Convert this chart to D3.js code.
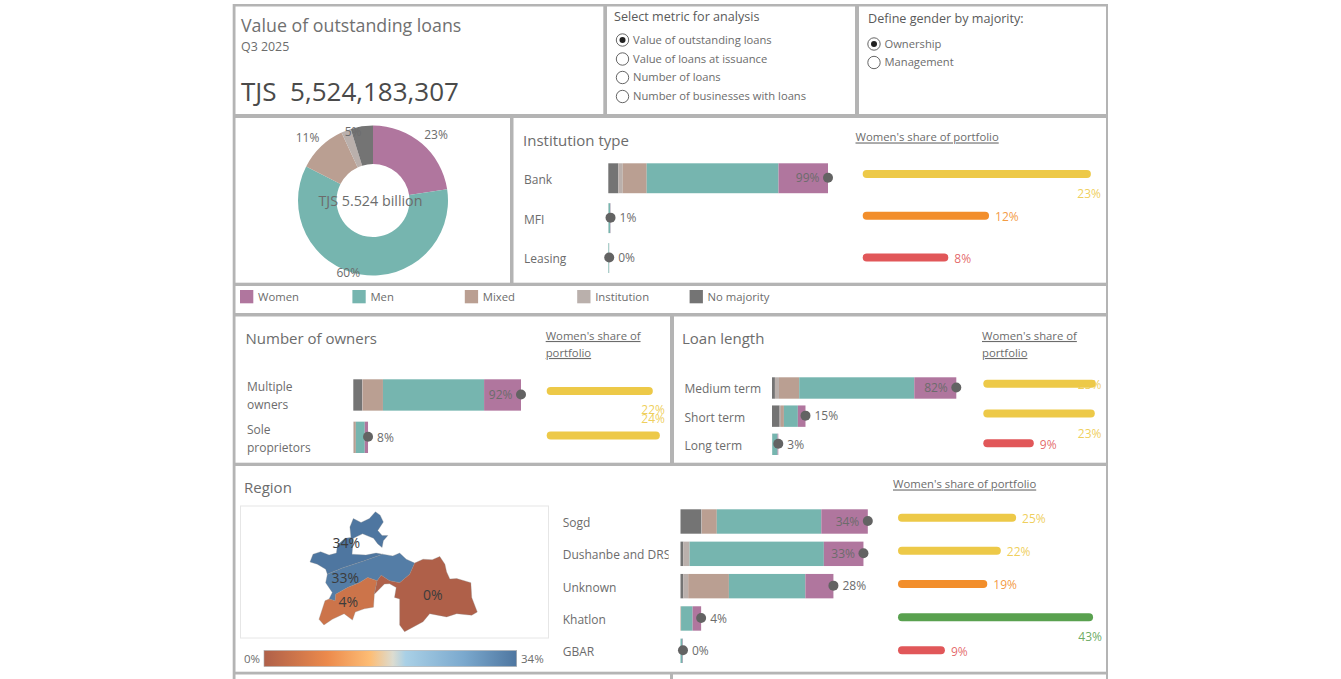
<!DOCTYPE html>
<html>
<head>
<meta charset="utf-8">
<script src="https://cdn.jsdelivr.net/npm/d3@7"></script>
<style>
  html, body { margin: 0; background: #fff; }
  svg { display: block; }
  text { font-family: "Open Sans", sans-serif; fill: #6c6c6c; }
</style>
</head>
<body>
<div id="chart"></div>
<script>
// stack order, left to right
const segmentNames = ['No majority', 'Institution', 'Mixed', 'Men', 'Women'];
const legendNames = ['Women', 'Men', 'Mixed', 'Institution', 'No majority'];
const segmentColors = ['#747474', '#bab0ac', '#ba9f92', '#76b5af', '#b0769e'];

const metricOptions = ['Value of outstanding loans', 'Value of loans at issuance', 'Number of loans', 'Number of businesses with loans'];
const genderOptions = ['Ownership', 'Management'];

// whole portfolio, % per segment
const portfolioShares = [4.8, 2.1, 10.6, 59.9, 22.6];

const institutionRows = ['Bank', 'MFI', 'Leasing'];
const institutionShares = [
  [4.5, 2.0, 10.8, 59.4, 22.3],
  [0.0, 0.02, 0.08, 0.78, 0.12],
  [0.0, 0.0, 0.05, 0.33, 0.03]
];
const institutionWomen = [22.7, 12.2, 8.0];

const ownerRows = ['Multiple owners', 'Sole proprietors'];
const ownerShares = [
  [4.9, 0.2, 11.2, 55.6, 20.3],
  [0.0, 0.3, 1.1, 4.9, 1.8]
];
const ownerWomen = [22.3, 23.9];

const lengthRows = ['Medium term', 'Short term', 'Long term'];
const lengthShares = [
  [1.3, 1.8, 9.0, 51.2, 18.7],
  [3.4, 0.6, 1.3, 6.2, 3.4],
  [0.0, 0.0, 0.1, 2.4, 0.3]
];
const lengthWomen = [23.1, 22.9, 9.4];

const regionRows = ['Sogd', 'Dushanbe and DRS', 'Unknown', 'Khatlon', 'GBAR'];
const regionShares = [
  [3.8, 0.1, 2.7, 19.0, 8.45],
  [0.5, 1.16, 0.0, 24.4, 7.2],
  [0.5, 0.9, 7.4, 13.9, 5.1],
  [0.0, 0.0, 0.1, 2.1, 1.55],
  [0.0, 0.0, 0.0, 0.38, 0.07]
];
const regionWomen = [25.2, 21.7, 18.6, 42.8, 8.9];

// map: lon/lat outlines
const mapValues = [34, 33, 4, 0];
const mapLabelAt = [[69.09, 39.95], [69.04, 38.68], [69.18, 37.81], [73.13, 38.07]];
const sogdOutline = [[67.40,39.26],[67.54,39.54],[67.90,39.63],[68.29,39.51],[68.63,39.58],[68.68,39.87],[69.03,40.11],[69.31,40.14],[69.26,40.51],[69.42,40.81],[69.78,40.67],[70.17,40.81],[70.45,41.05],[70.67,40.93],[70.82,40.69],[70.56,40.39],[70.76,40.21],[71.03,40.21],[70.82,40.02],[70.76,39.78],[70.56,39.91],[70.36,40.11],[69.85,40.27],[69.42,40.11],[69.36,39.54],[70.01,39.51],[70.48,39.58],[70.79,39.54],[69.93,39.30],[68.91,39.04],[68.21,38.82],[68.13,39.00],[67.74,39.18]];
const drsOutline = [[70.79,39.54],[71.26,39.48],[71.58,39.58],[71.89,39.36],[72.28,39.22],[72.05,38.82],[71.58,38.51],[71.11,38.58],[70.72,38.78],[70.53,38.58],[70.09,38.70],[69.70,38.51],[69.15,38.33],[68.60,38.09],[68.57,37.85],[68.29,37.91],[68.44,38.15],[68.13,38.51],[68.21,38.82],[68.91,39.04],[69.93,39.30]];
const khatlonOutline = [[70.09,38.70],[70.53,38.58],[70.40,38.09],[70.36,37.61],[69.93,37.55],[69.51,37.43],[69.38,37.13],[68.99,37.37],[68.44,37.16],[68.05,36.95],[67.82,37.16],[68.10,37.85],[68.29,37.91],[68.57,37.85],[68.60,38.09],[69.15,38.33],[69.70,38.51]];
const gbaoOutline = [[72.28,39.22],[72.67,39.36],[73.10,39.34],[73.45,39.46],[73.69,39.18],[73.77,38.90],[73.92,38.64],[74.24,38.66],[74.90,38.51],[74.94,37.97],[75.20,37.43],[74.94,37.31],[74.24,37.37],[73.77,37.25],[72.98,37.37],[72.67,37.07],[71.81,36.70],[71.58,36.95],[71.58,37.91],[71.34,37.97],[71.42,38.33],[71.11,38.47],[70.87,38.46],[70.40,38.09],[70.53,38.58],[70.72,38.78],[71.11,38.58],[71.58,38.51],[72.05,38.82]];
const mapOutlines = [sogdOutline, drsOutline, khatlonOutline, gbaoOutline];

const width = 1341, height = 679;
const grey = '#b4b4b4', textGrey = '#6c6c6c', dotGrey = '#636363';

const svg = d3.select('#chart').append('svg')
  .attr('width', width)
  .attr('height', height);

function txt(x, y, s, size, opts) {
  opts = opts || {};
  return svg.append('text')
    .attr('x', x).attr('y', y)
    .attr('dy', '0.35em')
    .attr('xml:space', 'preserve')
    .attr('text-anchor', opts.anchor || 'start')
    .style('font-size', size + 'px')
    .style('fill', opts.fill || textGrey)
    .style('text-decoration', opts.underline ? 'underline' : null)
    .text(s);
}

// dashboard frame
[
  [233, 4, 875, 2.5], [233, 114, 875, 4], [233, 282.7, 875, 3.3], [233, 313, 875, 3.5],
  [233, 462.7, 875, 3.3], [233, 671.7, 875, 2.8],
  [232.7, 4, 2.8, 675], [1106, 4, 2, 675],
  [603.3, 4, 3.7, 110], [855, 4, 4, 110], [510, 118, 3.5, 165], [670, 316, 4, 147], [670, 674, 3, 5]
].forEach(function(r) {
  svg.append('rect').attr('x', r[0]).attr('y', r[1]).attr('width', r[2]).attr('height', r[3]).attr('fill', grey);
});

// header
txt(241, 26, 'Value of outstanding loans', 17.8, {fill: '#707070'});
txt(241, 47, 'Q3 2025', 12.4);
txt(241, 91.5, 'TJS  5,524,183,307', 26, {fill: '#4a4a4a'});

function radios(title, tx, ty, names, cx, ys, labelX, size) {
  txt(tx, ty, title, 12.6, {fill: '#5a5a5a'});
  names.forEach(function(n, i) {
    svg.append('circle').attr('cx', cx).attr('cy', ys[i]).attr('r', 6.2)
      .attr('fill', '#fff').attr('stroke', '#555').attr('stroke-width', 0.9);
    if (i == 0) svg.append('circle').attr('cx', cx).attr('cy', ys[i]).attr('r', 3).attr('fill', '#222');
    txt(labelX, ys[i], n, size);
  });
}
radios('Select metric for analysis', 614, 17, metricOptions, 622.5, [40, 59, 77.5, 96.5], 633, 11.2);
radios('Define gender by majority:', 868, 19, genderOptions, 874, [44, 62.5], 884.5, 11.2);

// donut
const donutOrder = [4, 3, 2, 1, 0];
const pie = d3.pie().sort(null).value(function(i) { return portfolioShares[i]; });
const arc = d3.arc().innerRadius(36.5).outerRadius(75);
const donut = svg.append('g').attr('transform', 'translate(373,200.5)');
donut.selectAll('path').data(pie(donutOrder)).join('path')
  .attr('d', arc)
  .attr('fill', function(d) { return segmentColors[d.data]; });
// label spots: radius and angle per slice, no-institution label is hidden in the original
[[91.6, 43.5], [76, 199], [91, 314], null, [72, 344]].forEach(function(p, i) {
  if (!p) return;
  const a = d3.pointRadial(p[1] * Math.PI / 180, p[0]);
  txt(373 + a[0], 200.5 + a[1] + 0.5, d3.format('.0f')(portfolioShares[donutOrder[i]]) + '%', 12, {anchor: 'middle'});
});
txt(370.5, 201, 'TJS 5.524 billion', 14.3, {anchor: 'middle'});

// legend
legendNames.forEach(function(n, i) {
  const x = 240 + i * 112.4;
  svg.append('rect').attr('x', x).attr('y', 290).attr('width', 13.3).attr('height', 13.3)
    .attr('fill', segmentColors[segmentNames.indexOf(n)]);
  txt(x + 18, 297, n, 11.3);
});

const womenColor = d3.scaleThreshold().domain([10, 20, 30]).range(['#e15759', '#f28e2b', '#edc948', '#59a14f']);

function breakdown(p) {
  const x = d3.scaleLinear().domain([0, p.maxTotal]).range(p.barRange);
  const y = d3.scaleBand().domain(p.rows).range(p.yRange).paddingInner(p.pad);

  txt(p.titleX, p.titleY, p.title, 15);
  p.header.forEach(function(line, i) {
    txt(p.headerX, p.headerY + i * 17, line, 11.3, {underline: true});
  });

  const clipId = 'clip' + p.titleX;
  svg.append('clipPath').attr('id', clipId).append('rect')
    .attr('x', p.labelX - 2).attr('y', p.yRange[0] - 12)
    .attr('width', p.labelClip).attr('height', p.yRange[1] - p.yRange[0] + 24);

  p.rows.forEach(function(row, i) {
    const cy = y(row) + y.bandwidth() / 2;
    // category label, wraps at the space when asked to
    const lines = p.wrap ? row.split(' ') : [row];
    lines.forEach(function(line, k) {
      const ly = lines.length > 1 ? cy - 8 + k * 18 : cy + 1.2;
      txt(p.labelX, ly, line, 12).attr('clip-path', 'url(#' + clipId + ')');
    });

    const stacked = d3.cumsum(p.shares[i]);
    p.shares[i].forEach(function(v, j) {
      if (!v) return;
      svg.append('rect')
        .attr('x', x(stacked[j] - v))
        .attr('y', y(row))
        .attr('width', x(stacked[j]) - x(stacked[j] - v))
        .attr('height', y.bandwidth())
        .attr('fill', segmentColors[j]);
    });

    const total = stacked[stacked.length - 1];
    svg.append('circle').attr('cx', x(total)).attr('cy', cy - 0.5).attr('r', 5).attr('fill', dotGrey);
    const inside = total > p.flipAbove;
    txt(x(total) + (inside ? -8.5 : 9), cy, Math.round(total) + '%', 12, {anchor: inside ? 'end' : 'start'});
  });

  // women's share column
  const w = d3.scaleLinear().domain([0, 10]).range([p.shareX + 4, p.shareX + 4 + p.sharePer10]);
  const wy = d3.scalePoint().domain(p.rows).range(p.shareY);
  p.rows.forEach(function(row, i) {
    const v = p.women[i];
    const c = womenColor(v);
    const shift = p.labelShift[i];
    const label = shift === null
      ? txt(w(v) + 10, wy(row) + 1, Math.round(v) + '%', 12, {fill: c})
      : txt(p.labelEdge, wy(row) + shift, Math.round(v) + '%', 12, {fill: c, anchor: 'end'});
    label.style('fill-opacity', 0.9);
    svg.append('line')
      .attr('x1', w(0)).attr('x2', w(v))
      .attr('y1', wy(row)).attr('y2', wy(row))
      .attr('stroke', c).attr('stroke-width', 8).attr('stroke-linecap', 'round');
  });
}

breakdown({
  title: 'Institution type', titleX: 523, titleY: 141, rows: institutionRows, shares: institutionShares, women: institutionWomen,
  header: ["Women's share of portfolio"], headerX: 855.5, headerY: 137.5,
  labelX: 524, labelClip: 80, maxTotal: 99, barRange: [608.3, 828], yRange: [163.3, 273], pad: 0.25, flipAbove: 50,
  shareX: 862.7, sharePer10: 97, shareY: [174, 257.5], labelEdge: 1101, labelShift: [19.5, null, null]
});
breakdown({
  title: 'Number of owners', titleX: 245.5, titleY: 339, rows: ownerRows, shares: ownerShares, women: ownerWomen,
  header: ["Women's share of", 'portfolio'], headerX: 545.7, headerY: 336, wrap: true,
  labelX: 247, labelClip: 90, maxTotal: 92.2, barRange: [353.3, 521], yRange: [379.3, 453], pad: 0.26, flipAbove: 50,
  shareX: 546.7, sharePer10: 44, shareY: [391, 435.5], labelEdge: 665, labelShift: [19, -17]
});
breakdown({
  title: 'Loan length', titleX: 682, titleY: 339, rows: lengthRows, shares: lengthShares, women: lengthWomen,
  header: ["Women's share of", 'portfolio'], headerX: 982, headerY: 336,
  labelX: 684.5, labelClip: 85, maxTotal: 82, barRange: [772, 956.3], yRange: [377.3, 455], pad: 0.24, flipAbove: 50,
  shareX: 983.3, sharePer10: 45.2, shareY: [383.7, 443.3], labelEdge: 1101.5, labelShift: [1.5, 20, null]
});
breakdown({
  title: 'Region', titleX: 244, titleY: 488, rows: regionRows, shares: regionShares, women: regionWomen,
  header: ["Women's share of portfolio"], headerX: 893, headerY: 484.5,
  labelX: 562.7, labelClip: 108, maxTotal: 34.05, barRange: [680.5, 867.8], yRange: [509.3, 663], pad: 0.245, flipAbove: 30,
  shareX: 898, sharePer10: 43.7, shareY: [517.7, 650.3], labelEdge: 1102, labelShift: [null, null, null, 19.5, null]
});

// choropleth
svg.append('rect').attr('x', 240.5).attr('y', 506).attr('width', 308).attr('height', 132)
  .attr('fill', '#fff').attr('stroke', '#e6e6e6');

const mapFeatures = mapOutlines.map(function(ring, i) {
  return {type: 'Feature', properties: {value: mapValues[i]},
    geometry: {type: 'Polygon', coordinates: [ring.concat([ring[0]])]}};
});
const mapGeo = {type: 'FeatureCollection', features: mapFeatures};
const projection = d3.geoMercator().fitExtent([[310, 511.7], [477.3, 631.7]], mapGeo);
const geoPath = d3.geoPath(projection);

const stopAt = [0, 0.25, 0.42, 0.51, 0.56, 0.79, 1];
const stopColors = ['#af6049', '#ec8a4c', '#fdbd75', '#dcdcd0', '#a9d0e6', '#7ba9ce', '#4e76a0'];
const mapColor = d3.scaleLinear().domain(stopAt.map(function(s) { return s * 34; })).range(stopColors);

svg.append('g').selectAll('path').data(mapFeatures).join('path')
  .attr('d', geoPath)
  .attr('fill', function(d) { return mapColor(d.properties.value); })
  .attr('stroke', '#8a8a8a').attr('stroke-width', 0.3);

mapLabelAt.forEach(function(c, i) {
  const p = projection(c);
  txt(p[0], p[1], mapValues[i] + '%', 14, {anchor: 'middle', fill: '#3c3c3c'});
});

// colour legend
const grad = svg.append('defs').append('linearGradient').attr('id', 'ramp');
stopAt.forEach(function(s, i) {
  grad.append('stop').attr('offset', s).attr('stop-color', stopColors[i]);
});
svg.append('rect').attr('x', 264).attr('y', 650.5).attr('width', 252.7).attr('height', 16)
  .attr('fill', 'url(#ramp)').attr('stroke', '#aaa').attr('stroke-width', 0.6);
txt(244, 658.5, '0%', 11.5);
txt(521, 658.5, '34%', 11.5);
</script>
</body>
</html>
